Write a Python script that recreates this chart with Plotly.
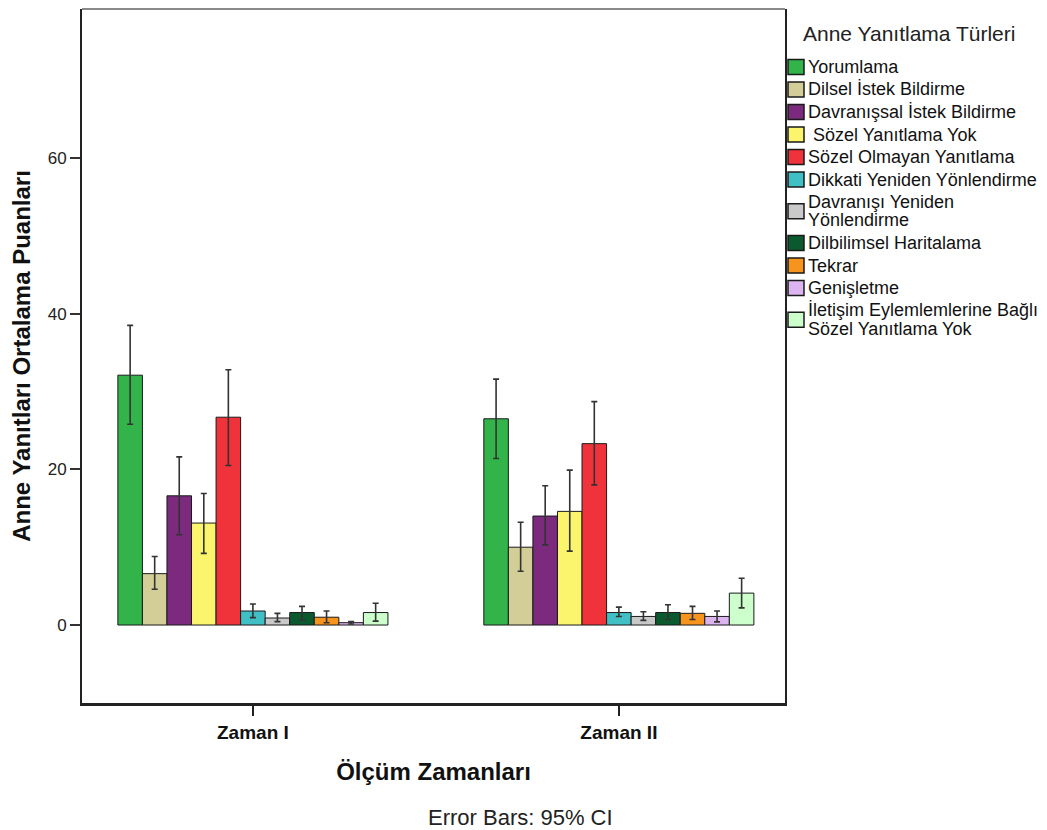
import plotly.graph_objects as go

times = ["Zaman I", "Zaman II"]
series = ["Yorumlama", "Dilsel İstek Bildirme", "Davranışsal İstek Bildirme",
          "\u00a0Sözel Yanıtlama Yok", "Sözel Olmayan Yanıtlama",
          "Dikkati Yeniden Yönlendirme", "Davranışı Yeniden<br>Yönlendirme",
          "Dilbilimsel Haritalama", "Tekrar", "Genişletme",
          "İletişim Eylemlemlerine Bağlı<br>Sözel Yanıtlama Yok"]
colors = ["#33b44a", "#d3cd98", "#7b2a7e", "#fbf56e", "#f0323a", "#40bfc4",
          "#c9c9c9", "#0b5a2f", "#f7941d", "#dcb5f0", "#ccffcc"]
# means per series: [Zaman I, Zaman II]
means = [[32.1, 26.5], [6.6, 10.0], [16.6, 14.0], [13.1, 14.6], [26.7, 23.3],
         [1.8, 1.6], [0.9, 1.1], [1.6, 1.6], [1.0, 1.5], [0.3, 1.1], [1.6, 4.1]]
ci_upper = [[38.5, 31.6], [8.8, 13.2], [21.6, 17.9], [16.9, 19.9], [32.8, 28.7],
            [2.7, 2.3], [1.5, 1.7], [2.4, 2.6], [1.8, 2.4], [0.45, 1.8], [2.8, 6.0]]
ci_lower = [[25.8, 21.4], [4.6, 6.9], [11.6, 10.3], [9.2, 9.5], [20.5, 18.0],
            [0.95, 1.1], [0.43, 0.6], [0.64, 0.7], [0.3, 0.7], [0.13, 0.4], [0.5, 2.2]]
y_ticks = [0, 20, 40, 60]

FONT = "Liberation Sans, Arial, sans-serif"

fig = go.Figure()
for name, col, m, hi, lo in zip(series, colors, means, ci_upper, ci_lower):
    fig.add_trace(go.Bar(
        x=times, y=m, name=name,
        marker=dict(color=col, line=dict(color="#1a1a1a", width=1)),
        error_y=dict(type="data", symmetric=False,
                     array=[h - v for h, v in zip(hi, m)],
                     arrayminus=[v - l for v, l in zip(m, lo)],
                     color="#333333", thickness=1.6, width=3),
    ))

# page offset of the plot div (body margin)
OFF = 8
W, H = 1047 - OFF, 830 - OFF
# plot area in page pixels
L, R, T, B = 82, 785, 9, 703
ml, mt = L - OFF, T - OFF
mr, mb = W - (R - OFF), H - (B - OFF)


def px(x):
    return (x - L) / (R - L)


def py(y):
    return (B - y) / (B - T)


shapes = [dict(type="line", xref="paper", yref="paper", x0=0, x1=1, y0=1, y1=1,
               line=dict(color="#8a8a8a", width=2))]
annotations = [
    dict(text="Error Bars: 95% CI", xref="paper", yref="paper",
         x=px(520), y=py(818), xanchor="center", yanchor="middle",
         showarrow=False, font=dict(size=22, color="#222")),
    dict(text="Anne Yanıtlama Türleri", xref="paper", yref="paper",
         x=px(801), y=py(33), xanchor="left", yanchor="middle",
         showarrow=False, font=dict(size=21, color="#222")),
]

# legend built from the series names and colours
y_cursor = 67 - 11.25
for name, col in zip(series, colors):
    lines = name.split("<br>")
    h = 22.5 if len(lines) == 1 else 41
    c = y_cursor + h / 2
    y_cursor += h
    shapes.append(dict(type="rect", xref="paper", yref="paper",
                       x0=px(788), x1=px(804), y0=py(c + 7.5), y1=py(c - 7.5),
                       fillcolor=col, line=dict(color="#1a1a1a", width=1.5)))
    if len(lines) == 1:
        offs = [0]
    else:
        offs = [-9.5, 9]
    for ln, o in zip(lines, offs):
        annotations.append(dict(text=ln, xref="paper", yref="paper",
                                x=px(806), y=py(c + o), xanchor="left", yanchor="middle",
                                showarrow=False, font=dict(size=18, color="#111")))

fig.update_layout(
    width=W, height=H,
    margin=dict(l=ml, r=mr, t=mt, b=mb, autoexpand=False),
    paper_bgcolor="white", plot_bgcolor="white",
    barmode="group", bargap=0.262, bargroupgap=0,
    font=dict(family=FONT, color="#000000"),
    showlegend=False,
    xaxis=dict(
        type="category", range=[-0.467, 1.454],
        tickvals=times, ticktext=["<b>" + t + "</b>" for t in times],
        showline=True, linecolor="#222", linewidth=2.5, mirror=False,
        ticks="outside", ticklen=10, tickcolor="#222", tickwidth=1.5,
        tickfont=dict(size=19, color="#111"),
        title=dict(text="<b>Ölçüm Zamanları</b>", font=dict(size=24, color="#111"), standoff=22),
        showgrid=False, zeroline=False,
    ),
    yaxis=dict(
        range=[-10.02, 79.15], tickvals=y_ticks,
        showline=True, linecolor="#222", linewidth=2, mirror=True,
        ticks="outside", ticklen=10, tickcolor="#333", tickwidth=1.5,
        tickfont=dict(size=17, color="#222"),
        title=dict(text="<b>Anne Yanıtları Ortalama Puanları</b>", font=dict(size=24, color="#111"), standoff=16),
        showgrid=False, zeroline=False,
    ),
    shapes=shapes,
    annotations=annotations,
)

fig.write_html("out.html")
